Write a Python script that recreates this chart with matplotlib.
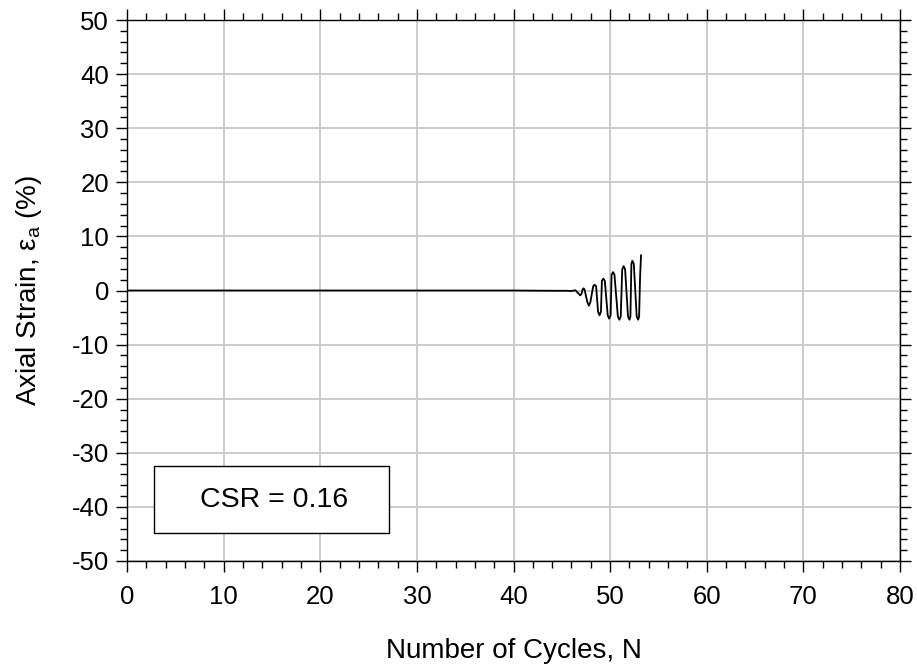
import matplotlib
matplotlib.use("Agg")
import matplotlib.pyplot as plt
from matplotlib.ticker import MultipleLocator
from matplotlib.patches import Rectangle

plt.rcParams['font.family'] = ['Liberation Sans', 'DejaVu Sans']
plt.rcParams['axes.unicode_minus'] = False

# Number of cycles (N) and axial strain (%)
cycles = [0.0, 10.0, 20.0, 30.0, 40.0, 44.0, 45.5, 46.0, 46.4,
          46.75, 46.9, 47.05, 47.15, 47.25, 47.35,
          47.65, 47.8, 47.95, 48.25, 48.4, 48.55,
          48.75, 48.9, 49.05, 49.15, 49.3, 49.45,
          49.75, 49.9, 50.05, 50.15, 50.3, 50.45,
          50.8, 50.95, 51.1, 51.25, 51.4, 51.55,
          51.85, 52.0, 52.1, 52.2, 52.3, 52.45,
          52.75, 52.9, 53.0, 53.1, 53.2]
strain = [0.0, 0.0, 0.0, 0.0, 0.0, -0.05, -0.05, -0.1, 0.05,
          -0.6, -0.9, -0.6, 0.2, 0.4, 0.2,
          -2.2, -2.8, -2.2, 0.8, 1.05, 0.8,
          -3.9, -4.6, -3.9, 1.8, 2.2, 1.8,
          -4.6, -5.2, -4.6, 2.9, 3.4, 2.9,
          -4.8, -5.4, -4.8, 3.9, 4.5, 3.9,
          -4.8, -5.4, -4.8, 4.9, 5.5, 4.9,
          -4.8, -5.4, -4.8, 2.5, 6.5]

x_ticks = [0, 10, 20, 30, 40, 50, 60, 70, 80]
y_ticks = [-50, -40, -30, -20, -10, 0, 10, 20, 30, 40, 50]
annotation = "CSR = 0.16"

fig = plt.figure(figsize=(9.17, 6.65), dpi=100)
ax = fig.add_axes([127 / 917, 1 - 561 / 665, 773 / 917, 541 / 665])

ax.plot(cycles, strain, color='black', lw=1.3, zorder=3)

ax.set_xlim(0, 80)
ax.set_ylim(-50, 50)
ax.set_xticks(x_ticks)
ax.set_yticks(y_ticks)
ax.xaxis.set_minor_locator(MultipleLocator(2))
ax.yaxis.set_minor_locator(MultipleLocator(2))
ax.grid(True, which='major', color='#c8c8c8', lw=1.3, zorder=0)
ax.set_axisbelow(True)

ax.tick_params(which='both', direction='out', top=True, right=True,
               labeltop=False, labelright=False, colors='black', width=1.0)
ax.tick_params(which='major', length=8, labelsize=18.5)
ax.tick_params(axis='y', which='major', pad=5)
ax.tick_params(axis='x', which='major', pad=9)
ax.tick_params(which='minor', length=5)
for s in ax.spines.values():
    s.set_linewidth(1.0)

ax.set_xlabel("Number of Cycles, N", fontsize=20, labelpad=21)
ax.set_ylabel(r"Axial Strain, ε$_{\mathregular{a}}$ (%)", fontsize=20, labelpad=20)

ax.add_patch(Rectangle((2.8, -44.9), 24.3, 12.4, facecolor='white',
                       edgecolor='black', lw=1.0, zorder=4))
ax.text(15.2, -38.7, annotation, fontsize=20.5, ha='center', va='center', zorder=5)

fig.savefig("out.png", dpi=100)
